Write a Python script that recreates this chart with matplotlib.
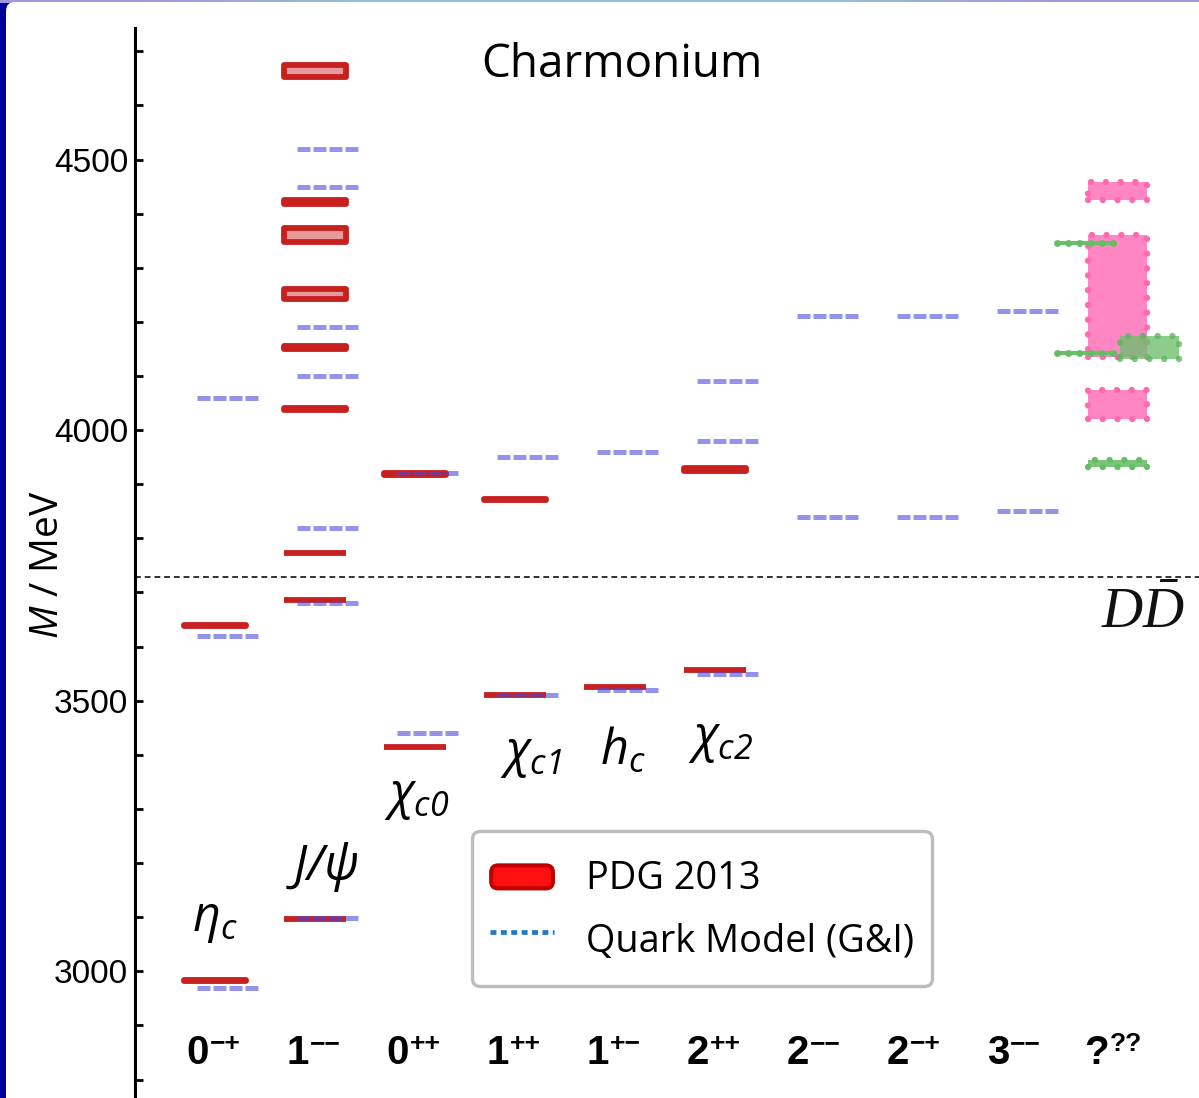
import matplotlib
matplotlib.use("Agg")
import matplotlib.pyplot as plt
import matplotlib.transforms as mtransforms
from matplotlib.patches import Rectangle, FancyBboxPatch, Patch
from matplotlib.lines import Line2D
from matplotlib.legend_handler import HandlerPatch
from matplotlib.ticker import MultipleLocator, FixedLocator
from matplotlib.font_manager import FontProperties, findfont
import numpy as np


def available(family):
    try:
        findfont(FontProperties(family=family), fallback_to_default=False)
        return True
    except ValueError:
        return False


label_family = "Liberation Sans Narrow" if available("Liberation Sans Narrow") else "Liberation Sans"

plt.rcParams["mathtext.fontset"] = "custom"
plt.rcParams["mathtext.rm"] = "Open Sans:italic"
plt.rcParams["mathtext.it"] = "Open Sans:italic"
plt.rcParams["mathtext.sf"] = "Liberation Serif:italic"
plt.rcParams["font.family"] = ["Open Sans", "DejaVu Sans"]

# ---- J^PC columns: J and PC ----
col_j = ["0", "1", "0", "1", "1", "2", "2", "2", "3", "?"]
col_pc = ["\u2212+", "\u2212\u2212", "++", "++", "+\u2212", "++",
          "\u2212\u2212", "\u2212+", "\u2212\u2212", "??"]

# ---- PDG 2013 states: column, mass, mass uncertainty (MeV) ----
pdg_col = [0, 0, 1, 1, 1, 1, 1, 1, 1, 1, 1, 2, 2, 3, 3, 4, 5, 5]
pdg_mass = [2983.6, 3639.4, 3096.9, 3686.1, 3773.2, 4039.0, 4153.0, 4251.0,
            4361.0, 4421.0, 4664.0, 3414.8, 3918.4, 3510.7, 3871.7, 3525.4,
            3556.2, 3927.2]
pdg_err = [0.7, 1.3, 0.1, 0.1, 0.3, 1.0, 3.0, 9.0, 13.0, 4.0, 11.0, 0.3, 1.9,
           0.1, 0.2, 0.1, 0.1, 2.6]

# ---- Godfrey-Isgur quark model predictions ----
gi_col = [0, 0, 0, 1, 1, 1, 1, 1, 1, 1, 2, 2, 3, 3, 4, 4, 5, 5, 5, 6, 6, 7, 7, 8, 8]
gi_mass = [2970, 3620, 4060, 3098, 3680, 3820, 4100, 4190, 4450, 4520, 3440,
           3920, 3510, 3950, 3520, 3960, 3550, 3980, 4090, 3840, 4210, 3840,
           4210, 3850, 4220]

# ---- unassigned states (?^??) ----
pink_lo = [4425, 4135, 4020]
pink_hi = [4458, 4360, 4074]
green_box_lo = [4131]
green_box_hi = [4174]
green_line_mass = [4345, 4142]
green_bar_lo = [3932]
green_bar_hi = [3945]

# ---- open-charm threshold ----
dd_threshold = 3729.0

# ---- state names ----
state_names = [r"$\eta_c$", r"$J/\psi$", r"$\chi_{c0}$", r"$\chi_{c1}$", r"$h_c$", r"$\chi_{c2}$"]
name_x = [0.0, 1.07, 2.02, 3.16, 4.08, 5.06]
name_m = [3095, 3193, 3322, 3400, 3405, 3427]

W, H = 1199, 1098
fig = plt.figure(figsize=(W / 100, H / 100), dpi=100, facecolor="#00009c")

# frame decoration: gradient top strip and white rounded panel
gax = fig.add_axes([0, 1 - 3 / H, 1, 3 / H], zorder=-10)
grad = np.linspace(0, 1, 256)
c_purple = np.array([0.63, 0.59, 0.87])
c_blue = np.array([0.59, 0.74, 0.85])
wgt = np.clip(1 - np.abs(grad - 0.5) * 2.6, 0, 1)[:, None]
wgt = np.clip(wgt * 2.2, 0, 1)
img = (c_purple * (1 - wgt) + c_blue * wgt)[None, :, :]
gax.imshow(img, aspect="auto", extent=[0, 1, 0, 1])
gax.set_axis_off()

panel = FancyBboxPatch((6, -40), W + 40, H + 40 - 2, boxstyle="round,pad=0,rounding_size=9",
                       facecolor="white", edgecolor="none",
                       transform=mtransforms.IdentityTransform(), zorder=-5)
fig.patches.append(panel)

ax_left, ax_top = 135, 28
ax = fig.add_axes([ax_left / W, 0, (W - ax_left) / W, (H - ax_top) / H], zorder=1)
ax.patch.set_alpha(0)

x_left = (ax_left - 215) / 100
x_right = (W - 215) / 100
ax.set_xlim(x_left, x_right)
ax.set_ylim(2766, 4743)

# PDG bars
for c, m, e in zip(pdg_col, pdg_mass, pdg_err):
    ax.add_patch(Rectangle((c - 0.31, m - e), 0.62, 2 * e,
                           facecolor="#e89a9a", edgecolor="#c8201f", lw=4.2,
                           joinstyle="round", zorder=3))

# quark model lines
for c, m in zip(gi_col, gi_mass):
    ax.plot([c + 0.125 - 0.305, c + 0.125 + 0.305], [m, m], color="#4646dc",
            alpha=0.58, lw=3.6, dashes=(2.6, 0.6), dash_capstyle="butt",
            solid_capstyle="butt", zorder=4)

# unassigned states
qc = len(col_j) - 1
dot_style = (0, (0.01, 2.3))
for lo, hi in zip(pink_lo, pink_hi):
    ax.add_patch(Rectangle((qc - 0.27, lo), 0.59, hi - lo, facecolor="#ff86c2",
                           edgecolor="#ff69b0", lw=4.6, linestyle=dot_style,
                           capstyle="round", zorder=3))
for lo, hi in zip(green_box_lo, green_box_hi):
    ax.add_patch(Rectangle((qc + 0.05, lo), 0.59, hi - lo, facecolor="#6cbf6c",
                           alpha=0.78, edgecolor="#5cb45c", lw=4.6,
                           linestyle=dot_style, capstyle="round", zorder=5))
for lo, hi in zip(green_bar_lo, green_bar_hi):
    ax.add_patch(Rectangle((qc - 0.27, lo), 0.59, hi - lo, facecolor="#7cc47c",
                           edgecolor="#66bb66", lw=4.6, linestyle=dot_style,
                           capstyle="round", zorder=3))
for m in green_line_mass:
    ax.plot([qc - 0.58, qc + 0.0], [m, m], color="#6cbd6c", lw=3.0, zorder=5,
            solid_capstyle="round")
    ax.plot([qc - 0.58, qc + 0.0], [m, m], color="#66bb66", lw=5.0,
            linestyle=(0, (0.01, 1.6)), dash_capstyle="round", zorder=5)

# D Dbar threshold
ax.axhline(dd_threshold, color="#333333", lw=1.4, dashes=(3, 2), zorder=2)
ax.text(x_right - 0.14, dd_threshold - 16, r"$\mathsf{D\bar{D}}$", ha="right", va="top",
        fontsize=41, color="#111111")

# axes styling
for s in ("top", "right", "bottom"):
    ax.spines[s].set_visible(False)
ax.spines["left"].set_linewidth(2.2)
ax.yaxis.set_major_locator(FixedLocator([3000, 3500, 4000, 4500]))
ax.yaxis.set_minor_locator(MultipleLocator(100))
ax.tick_params(axis="y", which="both", direction="in", length=5.5, width=2.0,
               labelsize=24, pad=5)
ax.tick_params(axis="x", which="both", bottom=False, labelbottom=False)
for lab in ax.get_yticklabels():
    lab.set_fontfamily("Liberation Sans")

# column labels: J with PC as superscript
tr = mtransforms.blended_transform_factory(ax.transData, ax.transAxes)
narrow = label_family == "Liberation Sans Narrow"
base_size = 30 if narrow else 29
sup_size = 20 if narrow else 19
for i, (j, pc) in enumerate(zip(col_j, col_pc)):
    base = ax.text(i - 0.06, (H - 1064) / (H - ax_top), j,
                   transform=tr, ha="right", va="baseline", fontsize=base_size,
                   fontweight="bold", family=[label_family, "DejaVu Sans"])
    ax.annotate(pc, xy=(1, 1), xycoords=base, xytext=(0.5, 1.5),
                textcoords="offset points", ha="left", va="top",
                fontsize=sup_size, fontweight="bold",
                family=[label_family, "DejaVu Sans"])

# state names
for name, xx, mm in zip(state_names, name_x, name_m):
    ax.text(xx, mm, name, ha="center", va="center", fontsize=35, color="black")

# title and y label
fig.text(622 / W, 1 - 65 / H, "Charmonium", ha="center", va="center", fontsize=33)
fig.text(48 / W, 1 - 565 / H, r"$M$ / MeV", rotation=90, ha="center", va="center",
         fontsize=28)


# legend
class RoundBarHandler(HandlerPatch):
    def create_artists(self, legend, orig_handle, xdescent, ydescent, width,
                       height, fontsize, trans):
        bar_h = 16.5
        y0 = -ydescent + (height - bar_h) / 2
        p = FancyBboxPatch((-xdescent + 1, y0), width - 2, bar_h,
                           boxstyle="round,pad=0,rounding_size=5",
                           facecolor="#ff1010", edgecolor="#c00000", lw=3,
                           transform=trans)
        return [p]


pdg_handle = Patch(facecolor="#ff1010", edgecolor="#c00000")
gi_handle = Line2D([], [], color="#1f78c8", lw=3.4, dashes=(1.25, 0.95),
                   dash_capstyle="butt")
leg = ax.legend([pdg_handle, gi_handle], ["PDG 2013", "Quark Model (G&I)"],
                loc="upper left", bbox_to_anchor=(472 / W, 1 - 831 / H),
                bbox_transform=fig.transFigure,
                prop=FontProperties(family="Open Sans", size=27.3),
                frameon=True, fancybox=True, framealpha=1, edgecolor="#bdbdbd",
                borderpad=0.47, handlelength=1.7, handleheight=1.9,
                handletextpad=0.84, labelspacing=0.18, borderaxespad=0,
                handler_map={Patch: RoundBarHandler()})
leg.get_frame().set_linewidth(2.4)
leg.set_zorder(10)

fig.savefig("out.png", dpi=100, facecolor=fig.get_facecolor())
